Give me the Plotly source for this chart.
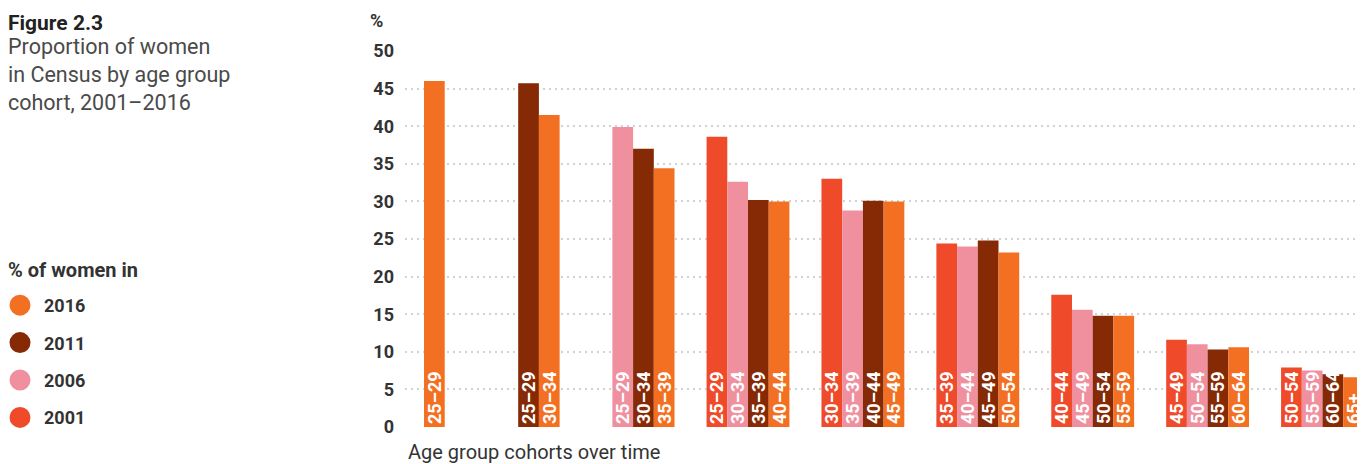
import plotly.graph_objects as go

# ---- data -------------------------------------------------------------
cohorts = ["25–29", "30–34", "35–39", "40–44", "45–49", "50–54", "55–59", "60–64", "65+"]  # age in 2016

vals_2001 = [None, None, None, 38.6, 33.0, 24.4, 17.6, 11.6, 7.9]
vals_2006 = [None, None, 39.9, 32.6, 28.8, 24.0, 15.6, 11.0, 7.5]
vals_2011 = [None, 45.7, 37.0, 30.2, 30.1, 24.8, 14.8, 10.3, 7.0]
vals_2016 = [46.0, 41.5, 34.4, 30.0, 30.0, 23.2, 14.8, 10.6, 6.6]

lab_2001 = ["", "", "", "25–29", "30–34", "35–39", "40–44", "45–49", "50–54"]
lab_2006 = ["", "", "25–29", "30–34", "35–39", "40–44", "45–49", "50–54", "55–59"]
lab_2011 = ["", "25–29", "30–34", "35–39", "40–44", "45–49", "50–54", "55–59", "60–64"]
lab_2016 = ["25–29", "30–34", "35–39", "40–44", "45–49", "50–54", "55–59", "60–64", "65+"]

y_ticks = [0, 5, 10, 15, 20, 25, 30, 35, 40, 45, 50]

# ---- style ------------------------------------------------------------
colors = {"2001": "#EF4A2A", "2006": "#F0909F", "2011": "#862905", "2016": "#F37022"}
FONT = "Roboto, 'Liberation Sans', Arial, sans-serif"
BODY = 8                     # default page margin around the figure
W, H = 1365 - BODY, 464 - BODY
L, R, T, B = 397, 0, 43, 37
PW, PH = W - L - R, H - T - B

# category geometry (figure-pixel centre of first cohort and spacing)
c0, S = 395.3, 114.9
xr = [(L - c0) / S, (W - R - c0) / S]


def sx(x):  # screen pixel -> paper x
    return (x - BODY - L) / PW


def sy(y):  # screen pixel -> paper y
    return (H - B - (y - BODY)) / PH


series = [
    ("2001", vals_2001, lab_2001),
    ("2006", vals_2006, lab_2006),
    ("2011", vals_2011, lab_2011),
    ("2016", vals_2016, lab_2016),
]

fig = go.Figure()
for name, vals, labs in series:
    fig.add_trace(go.Bar(
        x=cohorts, y=vals, name=name, text=labs,
        marker=dict(color=colors[name], line=dict(width=0)),
        textposition="inside", insidetextanchor="start", textangle=-90,
        textfont=dict(family=FONT, size=18, color="white", weight="bold"),
        showlegend=False, hoverinfo="y+name",
    ))

# legend entries (circles), newest first
for name in ["2016", "2011", "2006", "2001"]:
    fig.add_trace(go.Scatter(
        x=[None], y=[None], mode="markers", name=name, legendgroup=name,
        marker=dict(color=colors[name], size=16, symbol="circle",
                    line=dict(color=colors[name], width=5)),
        showlegend=True, hoverinfo="skip",
    ))

fig.update_layout(
    width=W, height=H,
    margin=dict(l=L, r=R, t=T, b=B, pad=0, autoexpand=False),
    paper_bgcolor="white", plot_bgcolor="white",
    barmode="group", bargap=0.279, bargroupgap=0,
    uniformtext=dict(minsize=18, mode="show"),
    font=dict(family=FONT, color="#333333"),
    xaxis=dict(type="category", categoryorder="array", categoryarray=cohorts,
               range=xr, showgrid=False, showticklabels=False, showline=False,
               zeroline=False, ticks="", fixedrange=True),
    yaxis=dict(range=[0, 50], tickvals=y_ticks, showgrid=True,
               gridcolor="#d2d2d2", gridwidth=2, griddash="2px,4px",
               zeroline=False, showline=False, ticks="", ticklabelstandoff=10,
               tickfont=dict(family=FONT, size=18, color="#333333", weight="bold"),
               fixedrange=True),
    legend=dict(
        x=sx(-4), xanchor="left", y=sy(287), yanchor="top",
        font=dict(family=FONT, size=18, color="#333333", weight="bold"),
        tracegroupgap=11, itemwidth=38, bgcolor="rgba(0,0,0,0)",
        traceorder="grouped",
    ),
    annotations=[
        dict(text="Figure 2.3", x=sx(6), y=sy(23), xref="paper", yref="paper",
             xanchor="left", yanchor="middle", showarrow=False,
             font=dict(family=FONT, size=21, color="#222222", weight="bold")),
        dict(text="Proportion of women<br>in Census by age group<br>cohort, 2001–2016",
             x=sx(6), y=sy(74), xref="paper", yref="paper", align="left",
             xanchor="left", yanchor="middle", showarrow=False,
             font=dict(family=FONT, size=21.5, color="#4a4a4a")),
        dict(text="% of women in", x=sx(6), y=sy(270), xref="paper", yref="paper",
             xanchor="left", yanchor="middle", showarrow=False,
             font=dict(family=FONT, size=20, color="#333333", weight="bold")),
        dict(text="%", x=sx(385), y=sy(20), xref="paper", yref="paper",
             xanchor="right", yanchor="middle", showarrow=False,
             font=dict(family=FONT, size=18, color="#333333", weight="bold")),
        dict(text="Age group cohorts over time", x=sx(406), y=sy(452),
             xref="paper", yref="paper", xanchor="left", yanchor="middle",
             showarrow=False,
             font=dict(family=FONT, size=20, color="#333333")),
    ],
)

fig.write_html("out.html")
